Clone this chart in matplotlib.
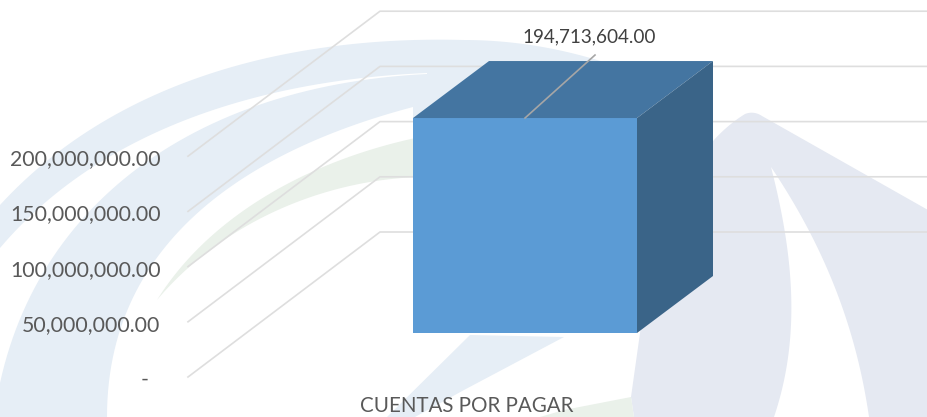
import numpy as np
import matplotlib
matplotlib.use('Agg')
import matplotlib.pyplot as plt
from matplotlib.patches import Polygon
from matplotlib.transforms import Affine2D

plt.rcParams['font.family'] = ['Lato', 'DejaVu Sans']

# data
categories = ['CUENTAS POR PAGAR']
values = [194713604.00]
tick_values = [0, 50000000, 100000000, 150000000, 200000000]
tick_labels = ['-  ', '50,000,000.00', '100,000,000.00', '150,000,000.00', '200,000,000.00']
value_labels = ['194,713,604.00']

W, H = 928, 417
FLOOR_PX = 378        # pixel row of value 0 for the axis labels
PX_PER_UNIT = 55.2 / 50000000
TEXT = '#595959'

fig = plt.figure(figsize=(W / 100, H / 100), dpi=100, facecolor='white')
ax = fig.add_axes([166 / W, 0, 1 - 166 / W, 1])
ax.patch.set_visible(False)
ax.set_xlim(166, W)
ax.set_ylim(-(H - FLOOR_PX) / PX_PER_UNIT, FLOOR_PX / PX_PER_UNIT)
for s in ax.spines.values():
    s.set_visible(False)


# watermark, traced in pixels from the top left corner
def bez(p0, p1, p2, p3, n=60):
    t = np.linspace(0, 1, n)[:, None]
    p0, p1, p2, p3 = [np.array(p, dtype=float) for p in (p0, p1, p2, p3)]
    return (1 - t) ** 3 * p0 + 3 * (1 - t) ** 2 * t * p1 + 3 * (1 - t) * t ** 2 * p2 + t ** 3 * p3


pixel_tf = Affine2D().scale(1, -1).translate(0, H)


def mark(color, *edges):
    pts = np.vstack(edges)
    fig.add_artist(Polygon(pts, closed=True, facecolor=color, edgecolor='none',
                           transform=pixel_tf, zorder=-1))


blue = '#e6eef6'
grey = '#e5e9f2'
green = '#eaf1ea'

mark(blue,
     bez((0, 205), (110, 85), (280, 35), (464, 40)),
     bez((464, 40), (530, 40), (590, 55), (640, 75)),
     [(413, 125)],
     bez((413, 107), (250, 150), (107, 240), (107, 417)),
     [(0, 417)],
     bez((0, 383), (40, 200), (200, 85), (427, 74)),
     bez((427, 73), (260, 80), (100, 130), (0, 248)))
mark(green,
     bez((157, 300), (210, 215), (310, 160), (420, 137)),
     bez((420, 177), (320, 180), (220, 225), (157, 300)))
mark(blue, [(387, 417), (470, 335), (564, 337), (464, 390), (415, 417)])
mark(grey,
     bez((640, 333), (660, 220), (690, 148), (745, 114)),
     bez((745, 114), (750, 112), (756, 112), (762, 116)),
     [(928, 210), (928, 417)],
     bez((869, 417), (855, 320), (820, 240), (771, 167)),
     bez((771, 167), (795, 260), (800, 340), (774, 417)),
     [(634, 417), (631, 397)])
mark(green, [(564, 410), (631, 397), (634, 417), (540, 417)])

# walls: each gridline runs from the front edge back and then to the right
GRID = '#dedede'
front_off = 1 / PX_PER_UNIT
back_off = 146 / PX_PER_UNIT
for v in tick_values:
    ax.plot([188, 380, W], [v + front_off, v + back_off, v + back_off], color=GRID, lw=1.2, zorder=1)

# bar: front face sits 45 px above the axis labels' floor
BAR_LEFT, BAR_WIDTH = 413, 224
DEPTH_X, DEPTH_Y = 76, 57
lift = 45 / PX_PER_UNIT
ax.bar([BAR_LEFT + BAR_WIDTH / 2], values, bottom=lift, width=BAR_WIDTH, color='#5b9bd5', zorder=3)
v = values[0] + lift
x0, x1 = BAR_LEFT, BAR_LEFT + BAR_WIDTH
d = DEPTH_Y / PX_PER_UNIT
ax.add_patch(Polygon([(x0, v), (x1, v), (x1 + DEPTH_X, v + d), (x0 + DEPTH_X, v + d)],
                     facecolor='#4475a1', edgecolor='none', zorder=3))
ax.add_patch(Polygon([(x1, lift), (x1 + DEPTH_X, lift + d), (x1 + DEPTH_X, v + d), (x1, v)],
                     facecolor='#3a6488', edgecolor='none', zorder=3))

# value label and its leader
ax.plot([525, 595], [v, v + 63 / PX_PER_UNIT], color='#a6a6a6', lw=1.2, zorder=4)
ax.text(589, (FLOOR_PX - 37) / PX_PER_UNIT, value_labels[0], ha='center', va='center',
        fontsize=13.6, color='#404040', zorder=5)

# axis labels
ax.set_yticks(tick_values)
ax.set_yticklabels(tick_labels, fontsize=15.3, color=TEXT)
ax.tick_params(axis='y', length=0, pad=4)
ax.set_xticks([467])
ax.set_xticklabels(categories, fontsize=14.8, color=TEXT)
ax.tick_params(axis='x', length=0, pad=-15)

fig.savefig('out.png', dpi=100, facecolor='white')
